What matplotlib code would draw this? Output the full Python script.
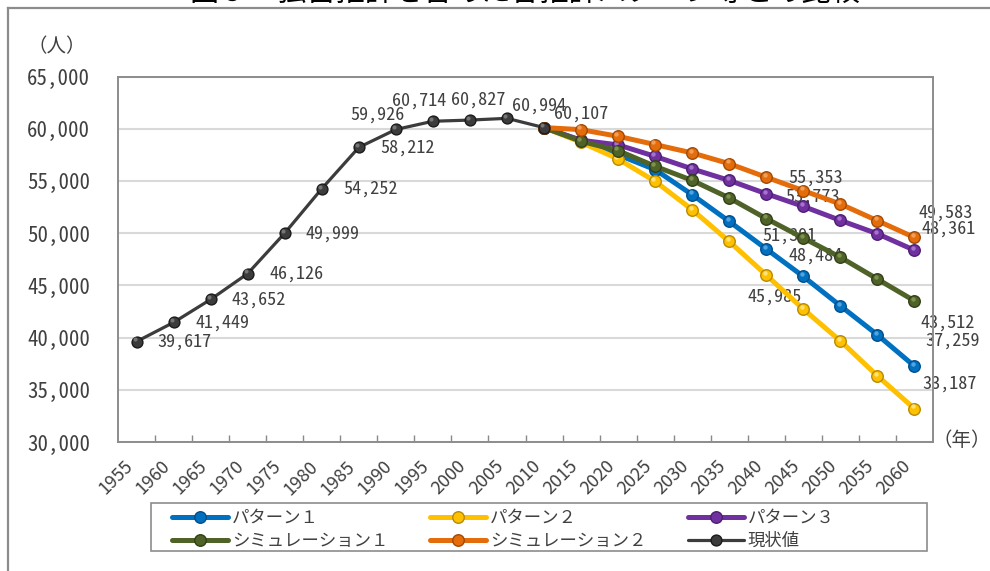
import matplotlib
matplotlib.use("Agg")
import matplotlib.pyplot as plt
from matplotlib.lines import Line2D
from matplotlib.patches import Rectangle
from matplotlib.transforms import ScaledTranslation
from matplotlib.ticker import FixedLocator, FuncFormatter

plt.rcParams['font.family'] = ['Noto Sans Mono CJK JP', 'Noto Sans CJK JP', 'DejaVu Sans']

# ---- data -------------------------------------------------------------
years = ['1955', '1960', '1965', '1970', '1975', '1980', '1985', '1990',
         '1995', '2000', '2005', '2010', '2015', '2020', '2025', '2030',
         '2035', '2040', '2045', '2050', '2055', '2060']

actual_years = ['1955', '1960', '1965', '1970', '1975', '1980', '1985',
                '1990', '1995', '2000', '2005', '2010']
actual = [39617, 41449, 43652, 46126, 49999, 54252, 58212, 59926,
          60714, 60827, 60994, 60107]

proj_years = ['2010', '2015', '2020', '2025', '2030', '2035', '2040',
              '2045', '2050', '2055', '2060']
pattern1 = [60107, 58850, 57500, 56080, 53680, 51120, 48484, 45850, 43040, 40260, 37259]
pattern2 = [60107, 58700, 57100, 54960, 52240, 49200, 45985, 42720, 39680, 36330, 33187]
pattern3 = [60107, 58900, 58450, 57350, 56150, 55050, 53773, 52560, 51220, 49940, 48361]
sim1 = [60107, 58800, 57900, 56400, 55050, 53370, 51391, 49530, 47690, 45600, 43512]
sim2 = [60107, 59910, 59270, 58480, 57680, 56650, 55353, 54070, 52790, 51190, 49583]

series_names = ['パターン１', 'パターン２', 'パターン３',
                'シミュレーション１', 'シミュレーション２', '現状値']

y_ticks = [30000, 35000, 40000, 45000, 50000, 55000, 60000, 65000]

# ---- styling ------------------------------------------------------------
TEXT = '#404040'
JP = ['Noto Sans CJK JP', 'DejaVu Sans']
styles = {
    'パターン１':       dict(color='#0070C0', edge='#004f8a', hi='#6fb6ec'),
    'パターン２':       dict(color='#FFC000', edge='#b88a00', hi='#fff0a0'),
    'パターン３':       dict(color='#7030A0', edge='#4d1f70', hi='#b88ad8'),
    'シミュレーション１': dict(color='#4F6228', edge='#323f18', hi='#8fa35e'),
    'シミュレーション２': dict(color='#E46C0A', edge='#a04a05', hi='#f8b070'),
    '現状値':          dict(color='#3c3c3c', edge='#1a1a1a', hi='#8a8a8a'),
}

W, H = 990, 571
fig = plt.figure(figsize=(W / 100, H / 100), dpi=100)
ax = fig.add_axes([118 / W, 1 - 442 / H, (933 - 118) / W, (442 - 76.5) / H])

xpos = {y: i for i, y in enumerate(years)}

hl_shift = ScaledTranslation(-1.2 / 72, 1.6 / 72, fig.dpi_scale_trans)


def draw_series(xs_lab, values, name, lw, ms, z):
    st = styles[name]
    xs = [xpos[y] for y in xs_lab]
    line, = ax.plot(xs, values, color=st['color'], lw=lw, marker='o', ms=ms,
                    mfc=st['color'], mec=st['edge'], mew=1.0,
                    solid_capstyle='round', zorder=z, label=name)
    # glossy highlight on each marker
    ax.plot(xs, values, ls='none', marker='o', ms=ms * 0.38, mfc=st['hi'],
            mec='none', alpha=0.75, zorder=z + 0.01,
            transform=ax.transData + hl_shift)
    return line


handles = {}
handles['パターン１'] = draw_series(proj_years, pattern1, 'パターン１', 3.6, 8.3, 3)
handles['パターン２'] = draw_series(proj_years, pattern2, 'パターン２', 3.6, 8.3, 3.1)
handles['パターン３'] = draw_series(proj_years, pattern3, 'パターン３', 3.6, 8.3, 3.2)
handles['シミュレーション１'] = draw_series(proj_years, sim1, 'シミュレーション１', 3.6, 8.3, 3.3)
handles['シミュレーション２'] = draw_series(proj_years, sim2, 'シミュレーション２', 3.6, 8.3, 3.4)
handles['現状値'] = draw_series(actual_years, actual, '現状値', 2.3, 7.8, 3.5)

# ---- data labels ---------------------------------------------------------
def label(year, value, dx, dy):
    ax.annotate(f'{value:,}', (xpos[year], value), xytext=(dx, -dy),
                textcoords='offset pixels', ha='center', va='center',
                fontsize=13, color=TEXT, zorder=2)

actual_offsets = [(48, 0), (49, 0), (48, 0), (49, 0), (48, 0), (49, 0),
                  (49, 0), (-18, -15), (-14, -21), (8, -20), (32, -13), (37, -14)]
for y, v, (dx, dy) in zip(actual_years, actual, actual_offsets):
    label(y, v, dx, dy)

i40, i60 = proj_years.index('2040'), proj_years.index('2060')
label('2040', sim2[i40], 49, 0)
label('2040', pattern3[i40], 46, 3)
label('2040', sim1[i40], 23, 17)
label('2040', pattern1[i40], 49, 7)
label('2040', pattern2[i40], 8, 22)
label('2060', sim2[i60], 31, -25)
label('2060', pattern3[i60], 34, -22)
label('2060', sim1[i60], 33, 22)
label('2060', pattern1[i60], 38, -26)
label('2060', pattern2[i60], 35, -25)

# ---- axes ------------------------------------------------------------------
ax.set_xlim(-0.5, len(years) - 0.5)
ax.set_ylim(y_ticks[0], y_ticks[-1])

ax.xaxis.set_major_locator(FixedLocator(range(len(years))))
ax.set_xticklabels(years, rotation=45, ha='right', va='top',
                   fontsize=13, color=TEXT, family=JP)
ax.tick_params(axis='x', which='major', length=0, pad=11)
ax.xaxis.set_minor_locator(FixedLocator([i + 0.5 for i in range(len(years) - 1)]))
ax.tick_params(axis='x', which='minor', length=5, width=1, direction='in',
               color='#888888')

ax.yaxis.set_major_locator(FixedLocator(y_ticks))
ax.yaxis.set_major_formatter(FuncFormatter(lambda v, p: f'{int(v):,}'))
ax.tick_params(axis='y', length=0, pad=20, labelsize=15, labelcolor=TEXT)

ax.grid(axis='y', color='#d9d9d9', lw=1.5, zorder=0)
ax.set_axisbelow(True)
for sp in ax.spines.values():
    sp.set_color('#8c8c8c')
    sp.set_linewidth(1.4)

fig.text(57 / W, 1 - 47 / H, '（人）', ha='center', va='center',
         fontsize=14, color=TEXT, family=JP)
fig.text(962 / W, 1 - 440 / H, '（年）', ha='center', va='center',
         fontsize=14, color=TEXT, family=JP)

# ---- legend -----------------------------------------------------------------
order = ['パターン１', 'シミュレーション１', 'パターン２',
         'シミュレーション２', 'パターン３', '現状値']
leg = fig.legend([handles[n] for n in order], order, ncol=3,
                 loc='upper left', bbox_to_anchor=(160 / W, 1 - 497 / H),
                 frameon=False, handlelength=3.2, handletextpad=0.25,
                 borderpad=0.2, labelspacing=0.28, columnspacing=2.4,
                 prop={'family': JP, 'size': 12.5})
for t in leg.get_texts():
    t.set_color(TEXT)
fig.add_artist(Rectangle((150.7 / W, 1 - 551 / H), (927 - 150.7) / W, 48 / H,
                         transform=fig.transFigure, fill=False,
                         edgecolor='#8c8c8c', lw=1.2))

# ---- outer frame and title --------------------------------------------------
fig.add_artist(Line2D([8 / W, 8 / W], [0, 1 - 7.5 / H], color='#8c8c8c',
                      lw=1.6, transform=fig.transFigure))
fig.add_artist(Line2D([8 / W, 1], [1 - 7.5 / H, 1 - 7.5 / H], color='#8c8c8c',
                      lw=1.6, transform=fig.transFigure))
fig.text(525 / W, 1 + 7.5 / H, '図９　独自推計を含めた各推計パターン等との比較',
         ha='center', va='center', fontsize=21, color='black', family=JP)

fig.savefig('out.png', dpi=100)
